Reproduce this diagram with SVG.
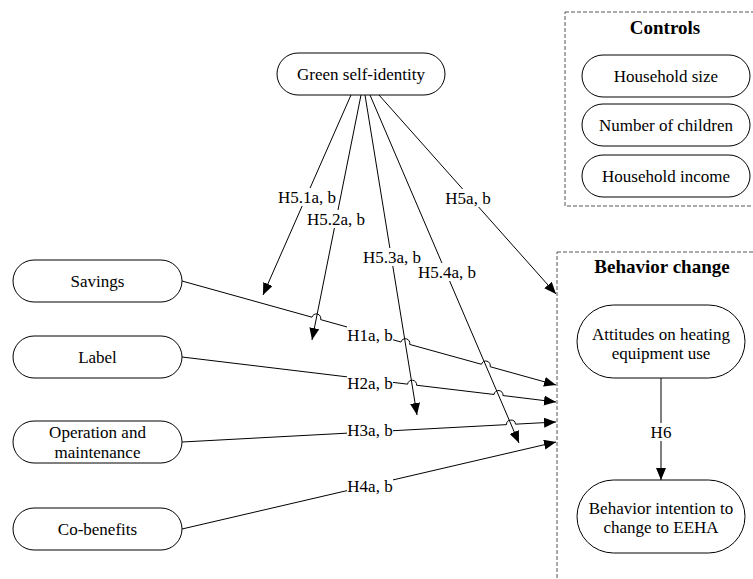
<svg xmlns="http://www.w3.org/2000/svg" width="753" height="579" viewBox="0 0 753 579">
<style>
text{font-family:'Liberation Serif','DejaVu Serif',serif;font-size:17px;fill:#000;text-anchor:middle}
.b{font-weight:bold;font-size:19px}
.pill{fill:#fff;stroke:#000;stroke-width:1}
.grp{fill:none;stroke:#555;stroke-width:1;stroke-dasharray:4,2}
.c{fill:none;stroke:#000;stroke-width:1}
.lb{fill:#fff}
</style>
<defs>
<marker id="ah" markerUnits="userSpaceOnUse" viewBox="0 0 12 10" refX="12" refY="5" markerWidth="12" markerHeight="10" orient="auto">
<path d="M0,0 L12,5 L0,10 z" fill="#000"/>
</marker>
</defs>
<rect id="controls-group" class="grp" x="565" y="12" width="200" height="194"/>
<text class="b" x="665" y="34" font-family="Liberation Serif, serif">Controls</text>
<rect id="behavior-group" class="grp" x="557" y="252" width="210" height="340"/>
<text class="b" x="662" y="273">Behavior change</text>
<g id="connectors">
<path class="c" d="M182,281 L311.96,317.19 A4.5,4.5 0 0 1 320.64,319.61 L400.96,341.99 A4.5,4.5 0 0 1 409.64,344.41 L481.46,364.29 A4.5,4.5 0 0 1 490.14,366.71 L556,385" marker-end="url(#ah)"/>
<path class="c" d="M182,357 L407.63,384.16 A4.5,4.5 0 0 1 416.57,385.24 L494.03,394.46 A4.5,4.5 0 0 1 502.97,395.54 L556,402" marker-end="url(#ah)"/>
<path class="c" d="M182,442 L506.51,424.64 A4.5,4.5 0 0 1 515.49,424.16 L556,422" marker-end="url(#ah)"/>
<path class="c" d="M182,529 L556,442" marker-end="url(#ah)"/>
<path class="c" d="M351,95 L263,295" marker-end="url(#ah)"/>
<path class="c" d="M361,95 L312,340" marker-end="url(#ah)"/>
<path class="c" d="M365,95 L417,415" marker-end="url(#ah)"/>
<path class="c" d="M370,95 L519,443" marker-end="url(#ah)"/>
<path class="c" d="M379,95 L556,294" marker-end="url(#ah)"/>
<path class="c" d="M661,378 L661,480" marker-end="url(#ah)"/>
</g>
<g id="edge-labels">
<rect class="lb" x="278" y="188" width="58" height="18"/><text x="307" y="203">H5.1a, b</text>
<rect class="lb" x="307" y="210" width="58" height="18"/><text x="336" y="225">H5.2a, b</text>
<rect class="lb" x="363" y="248" width="58" height="18"/><text x="392" y="263">H5.3a, b</text>
<rect class="lb" x="418" y="263" width="58" height="18"/><text x="447" y="278">H5.4a, b</text>
<rect class="lb" x="445" y="189" width="46" height="18"/><text x="468" y="204">H5a, b</text>
<rect class="lb" x="347" y="326" width="46" height="18"/><text x="370" y="341">H1a, b</text>
<rect class="lb" x="347" y="374" width="46" height="18"/><text x="370" y="389">H2a, b</text>
<rect class="lb" x="347" y="421" width="46" height="18"/><text x="370" y="436">H3a, b</text>
<rect class="lb" x="347" y="477" width="46" height="18"/><text x="370" y="492">H4a, b</text>
<rect class="lb" x="649" y="423" width="24" height="18"/><text x="661" y="438">H6</text>
</g>
<g id="green-self-identity"><rect class="pill" x="277" y="53" width="168" height="42" rx="21"/><text x="361" y="80">Green self-identity</text></g>
<g id="household-size"><rect class="pill" x="582" y="55" width="168" height="42" rx="21"/><text x="666" y="82">Household size</text></g>
<g id="number-of-children"><rect class="pill" x="582" y="104" width="168" height="42" rx="21"/><text x="666" y="131">Number of children</text></g>
<g id="household-income"><rect class="pill" x="582" y="155" width="168" height="42" rx="21"/><text x="666" y="182">Household income</text></g>
<g id="savings"><rect class="pill" x="13" y="260" width="169" height="42" rx="21"/><text x="97.5" y="287">Savings</text></g>
<g id="label"><rect class="pill" x="13" y="336" width="169" height="42" rx="21"/><text x="97.5" y="363">Label</text></g>
<g id="operation"><rect class="pill" x="13" y="421" width="169" height="42" rx="21"/><text x="97.5" y="438">Operation and</text><text x="97.5" y="458">maintenance</text></g>
<g id="co-benefits"><rect class="pill" x="13" y="508" width="169" height="42" rx="21"/><text x="97.5" y="535">Co-benefits</text></g>
<g id="attitudes"><rect class="pill" x="577" y="305" width="168" height="73" rx="36.5"/><text x="661" y="340">Attitudes on heating</text><text x="661" y="359">equipment use</text></g>
<g id="behavior-intention"><rect class="pill" x="577" y="480" width="168" height="73" rx="36.5"/><text x="661" y="514">Behavior intention to</text><text x="661" y="533">change to EEHA</text></g>
</svg>
